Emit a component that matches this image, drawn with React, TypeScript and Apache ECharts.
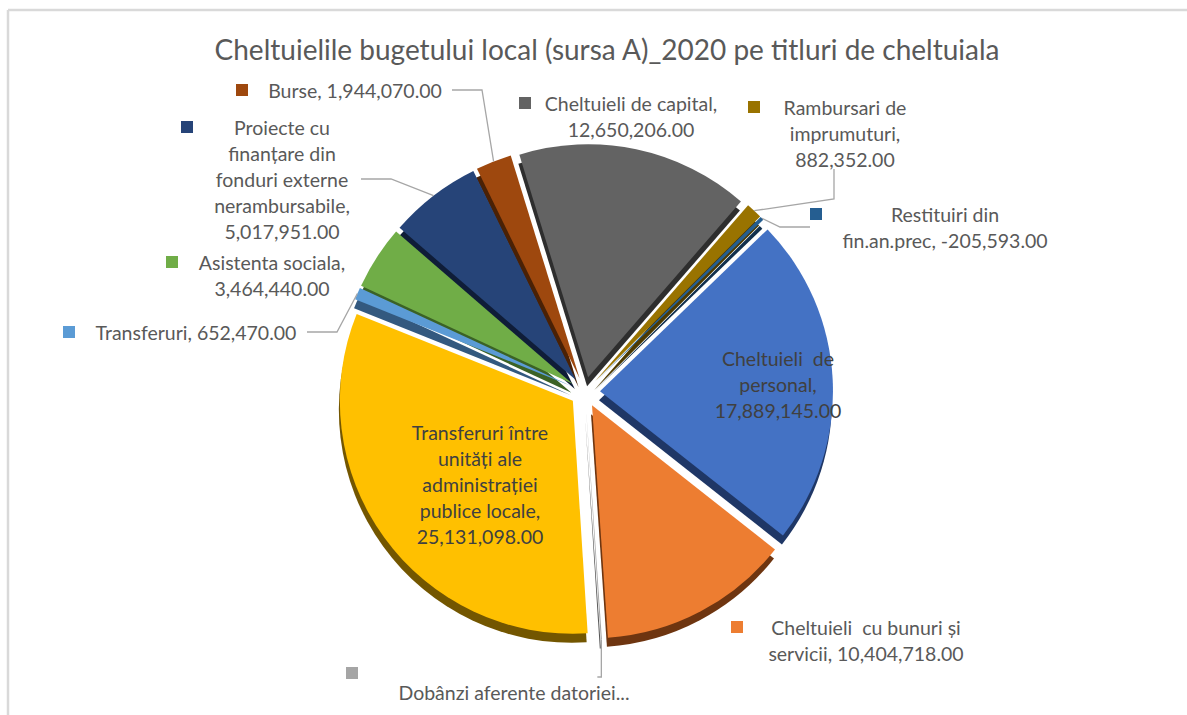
import React, { useEffect, useRef } from "react";
import * as echarts from "echarts";

// ---- data ----
const categories = [
  "Cheltuieli de personal",
  "Cheltuieli cu bunuri și servicii",
  "Dobânzi aferente datoriei publice",
  "Transferuri între unități ale administrației publice locale",
  "Transferuri",
  "Asistenta sociala",
  "Proiecte cu finanțare din fonduri externe nerambursabile",
  "Burse",
  "Cheltuieli de capital",
  "Rambursari de imprumuturi",
  "Restituiri din fin.an.prec",
];
const values = [
  17889145, 10404718, 60000, 25131098, 652470, 3464440, 5017951, 1944070,
  12650206, 882352, -205593,
];
// label text as wrapped in the reference ({v} = formatted value)
const labelTexts: string[][] = [
  ["Cheltuieli  de", "personal,", "{v}"],
  ["Cheltuieli  cu bunuri și", "servicii, {v}"],
  ["Dobânzi aferente datoriei..."],
  ["Transferuri între", "unități ale", "administrației", "publice locale,", "{v}"],
  ["Transferuri, {v}"],
  ["Asistenta sociala,", "{v}"],
  ["Proiecte cu", "finanțare din", "fonduri externe", "nerambursabile,", "{v}"],
  ["Burse, {v}"],
  ["Cheltuieli de capital,", "{v}"],
  ["Rambursari de", "imprumuturi,", "{v}"],
  ["Restituiri din", "fin.an.prec, {v}"],
];

// ---- styles / layout ----
const colors = [
  "#4472C4", "#ED7D31", "#A5A5A5", "#FFC000", "#5B9BD5", "#70AD47",
  "#264478", "#9E480E", "#636363", "#997300", "#255E91",
];
const sideColors = [
  "#1f3766", "#6e3510", "#555555", "#735600", "#33597f", "#3b6226",
  "#0f1d38", "#4a2105", "#2e2e2e", "#4c3900", "#12304d",
];
const labelPos: number[][] = [
  [683, 345], [731, 614], [346, 667], [377, 419], [63, 319], [166, 249],
  [181, 114], [236, 77], [519, 90], [748, 94], [810, 201],
];
const labelBoxW = [146, 226, 292, 162, 222, 168, 158, 194, 180, 150, 226];
const showLine = [false, false, true, false, true, false, true, true, false, true, true];
const inside = [true, false, false, true, false, false, false, false, false, false, false];

const FONT = "Lato";
const CENTER = [585, 392];
const RADIUS = 233;
const OFFSET = 15;
const START = 44;

const fmt = (v: number) =>
  v.toLocaleString("en-US", { minimumFractionDigits: 2, maximumFractionDigits: 2 });

export default function App() {
  const ref = useRef<HTMLDivElement>(null);
  useEffect(() => {
    if (!ref.current) return;
    const chart = echarts.init(ref.current, null, { renderer: "svg" });

    const topData = categories.map((name, i) => ({
      name,
      value: Math.abs(values[i]),
      selected: true,
      itemStyle: { color: colors[i] },
    }));

    const sideData = categories.map((name, i) => ({
      name,
      value: Math.abs(values[i]),
      selected: true,
      itemStyle: { color: sideColors[i] },
    }));

    const labelData = categories.map((name, i) => {
      const lines = labelTexts[i].map((l) => l.replace("{v}", fmt(values[i])));
      let formatter: string;
      if (i === 2) {
        formatter = "{sqd|}\n{sp|}{c|" + lines[0] + "}";
      } else {
        formatter = lines
          .map((l, k) => (k === 0 ? "{sq|}{g|}" : "{sp|}") + "{c|" + l + "}")
          .join("\n");
      }
      const textColor = inside[i] ? "#404040" : "#595959";
      return {
        name,
        value: Math.abs(values[i]),
        itemStyle: { color: "rgba(0,0,0,0)" },
        label: {
          show: true,
          position: "outside",
          formatter,
          rich: {
            sq: { width: 12, height: 12, backgroundColor: colors[i], lineHeight: 26 },
            sqd: { width: 12, height: 12, backgroundColor: colors[i], lineHeight: 12 },
            g: { width: 10, height: 12 },
            sp: { width: 22, height: 12 },
            c: {
              width: labelBoxW[i],
              align: "center",
              fontSize: 19.5,
              fontFamily: FONT,
              color: textColor,
              lineHeight: 26,
            },
          },
        },
        labelLine: {
          show: showLine[i],
          smooth: false,
          lineStyle: { color: "#a6a6a6", width: 1.3 },
        },
      };
    });

    chart.setOption({
      animation: false,
      backgroundColor: "#ffffff",
      title: {
        text: "Cheltuielile bugetului local (sursa A)_2020 pe titluri de cheltuiala",
        left: 602,
        textAlign: "center",
        top: 30,
        textStyle: {
          fontFamily: FONT,
          fontSize: 28,
          fontWeight: "normal",
          color: "#595959",
        },
      },
      graphic: [
        {
          type: "line",
          shape: { x1: 8, y1: 10, x2: 1187, y2: 10 },
          style: { stroke: "#d9d9d9", lineWidth: 2.5 },
          silent: true,
        },
        {
          type: "line",
          shape: { x1: 8, y1: 10, x2: 8, y2: 715 },
          style: { stroke: "#d9d9d9", lineWidth: 2.5 },
          silent: true,
        },
      ],
      series: [
        {
          type: "pie",
          z: 1,
          silent: true,
          center: [CENTER[0] - 1, CENTER[1] + 9],
          radius: RADIUS,
          startAngle: START,
          clockwise: true,
          selectedMode: "multiple",
          selectedOffset: OFFSET,
          avoidLabelOverlap: false,
          label: { show: false },
          labelLine: { show: false },
          emphasis: { disabled: true },
          data: sideData,
        },
        {
          type: "pie",
          z: 2,
          silent: true,
          center: CENTER,
          radius: RADIUS,
          startAngle: START,
          clockwise: true,
          selectedMode: "multiple",
          selectedOffset: OFFSET,
          avoidLabelOverlap: false,
          label: { show: false },
          labelLine: { show: false },
          emphasis: { disabled: true },
          data: topData,
        },
        {
          type: "pie",
          z: 3,
          silent: true,
          center: CENTER,
          radius: RADIUS + OFFSET,
          startAngle: START,
          clockwise: true,
          selectedMode: false,
          avoidLabelOverlap: false,
          emphasis: { disabled: true },
          labelLayout: (params: any) => {
            const i = params.dataIndex;
            const p = labelPos[i];
            const out: any = { x: p[0], y: p[1], align: "left", verticalAlign: "top" };
            if (i === 2 && params.labelLinePoints) {
              // vertical leader down to just above the truncated label's end
              const a = params.labelLinePoints[0];
              out.labelLinePoints = [
                [a[0], a[1]],
                [a[0], p[1] + 10],
                [a[0] - 4, p[1] + 10],
              ];
            }
            return out;
          },
          data: labelData,
        },
      ],
    });
    return () => chart.dispose();
  }, []);

  return (
    <div
      ref={ref}
      style={{ position: "absolute", left: 0, top: 0, width: 1187, height: 715 }}
    />
  );
}
